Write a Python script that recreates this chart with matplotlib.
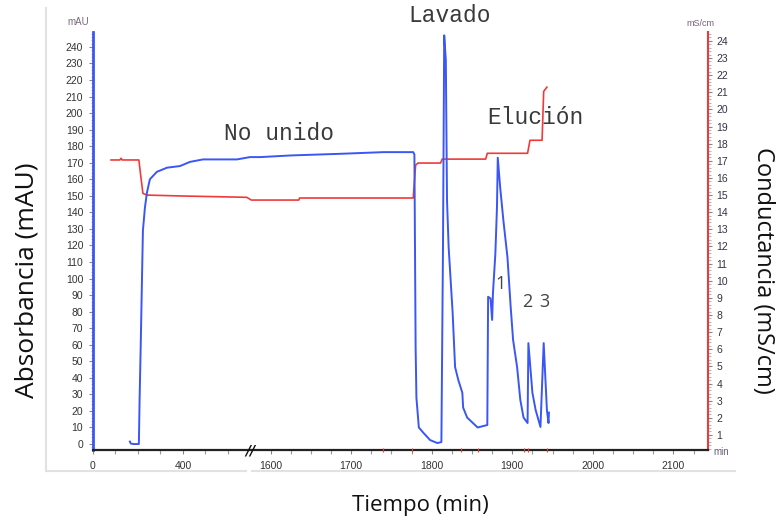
import numpy as np
import matplotlib
matplotlib.use("Agg")
import matplotlib.pyplot as plt
from matplotlib.lines import Line2D
from matplotlib.ticker import FixedLocator, MultipleLocator

# ---------------- data ----------------
abs_time = [164, 168, 180, 204, 207, 213, 218, 222, 231, 240, 253, 284, 329, 387, 431,
            489, 640, 698, 1587, 1625, 1687, 1740, 1777, 1778.5, 1780, 1781, 1784, 1790,
            1798, 1807, 1812, 1814, 1815.5, 1817.5, 1819, 1821, 1826, 1829, 1833, 1838,
            1839, 1844, 1857, 1869, 1870, 1873, 1875, 1876, 1879, 1881, 1882, 1885, 1889,
            1894, 1898, 1901, 1906, 1910, 1914, 1919, 1920, 1925, 1929, 1935, 1939, 1943,
            1945, 1945.5]
abs_vals = [1.5, 0.3, 0.0, 0.0, 25, 65, 101, 129, 143, 152, 160, 164.5, 167, 168, 170.5,
            172, 172, 173.4, 173.4, 174.4, 175.4, 176.4, 176.4, 175, 58.6, 28, 10, 6.6,
            2.4, 0.6, 1.2, 120, 247, 232, 147, 119, 79, 46.5, 38.7, 31,
            22, 16, 10, 11.5, 89, 88, 75, 91, 115, 143, 173, 155, 135,
            113, 83, 63, 46.5, 26.6, 16, 12.7, 61, 31, 20.6, 10.3, 61, 20.6,
            12.7, 19]

cond_time = [80, 120, 125, 130, 204, 213, 222, 240, 387, 684, 1576, 1635, 1636, 1777,
             1780, 1783, 1811, 1813, 1867, 1869, 1919, 1922, 1937, 1939, 1943]
cond_vals = [17.05, 17.05, 17.15, 17.05, 17.05, 16.05, 15.1, 15.0, 14.95, 14.87, 14.71,
             14.71, 14.83, 14.83, 16.75, 16.87, 16.87, 17.1, 17.1, 17.44, 17.44, 18.2,
             18.2, 21.05, 21.3]

event_marks = [1739, 1776, 1836, 1858, 1914, 1920, 1943]

x_major = [0, 400, 1600, 1700, 1800, 1900, 2000, 2100]
x_labels = ["0", "400", "1600", "1700", "1800", "1900", "2000", "2100"]
peak_labels = ["1", "2", "3"]
peak_pos = [(1885, 97), (1919, 86), (1940, 86)]

# ---------------- broken time scale ----------------
T_BP = np.array([0.0, 700.0, 1575.0, 2300.0])
U_BP = np.array([0.0, 157.5, 157.6, 157.6 + (2300 - 1575) * 0.806])


def fwd(t):
    return np.interp(np.asarray(t, dtype=float), T_BP, U_BP)


def inv(u):
    return np.interp(np.asarray(u, dtype=float), U_BP, T_BP)


W, H = 776, 520
fig = plt.figure(figsize=(W / 100, H / 100), dpi=100)
ax = fig.add_axes([93 / W, 1 - 450 / H, (708 - 93) / W, (450 - 32) / H])
ax.set_xscale('function', functions=(fwd, inv))
ax2 = ax.twinx()

BLUE = '#3a56f5'
RED = '#f03a3a'

ax.plot(abs_time, abs_vals, color=BLUE, lw=1.4, zorder=3)
ax2.plot(cond_time, cond_vals, color=RED, lw=1.2, zorder=2)
ax.set_zorder(ax2.get_zorder() + 1)
ax.patch.set_visible(False)

ax.set_xlim(0, 2143)
ax.set_ylim(-3.6, 249)
ax2.set_ylim(0.12, 24.52)

# spines
ax.spines['top'].set_visible(False)
ax2.spines['top'].set_visible(False)
ax.spines['right'].set_visible(False)
ax2.spines['left'].set_visible(False)
ax2.spines['bottom'].set_visible(False)
ax.spines['left'].set_color(BLUE)
ax.spines['left'].set_linewidth(2.0)
ax2.spines['right'].set_color(RED)
ax2.spines['right'].set_linewidth(1.5)
ax.spines['bottom'].set_color('#222222')
ax.spines['bottom'].set_linewidth(1.6)

tickfont = 'Liberation Sans'
ax.set_yticks(np.arange(0, 241, 10))
ax.yaxis.set_minor_locator(MultipleLocator(2))
ax.tick_params(axis='y', which='major', length=3, width=0.8, color='#888888',
               labelsize=7.5, labelcolor='#333333', pad=4)
ax.tick_params(axis='y', which='minor', length=1.8, width=0.6, color='#aaaaaa')

ax2.set_yticks(np.arange(1, 25, 1))
ax2.yaxis.set_minor_locator(MultipleLocator(0.2))
ax2.tick_params(axis='y', which='major', length=3, width=0.8, color='#888888',
                labelsize=7.5, labelcolor='#333344', pad=3)
ax2.tick_params(axis='y', which='minor', length=1.8, width=0.6, color='#aaaaaa')

ax.xaxis.set_major_locator(FixedLocator(x_major))
ax.set_xticklabels(x_labels)
minor_x = [100, 200, 300, 500, 600] + list(np.arange(1600, 2126, 25))
ax.xaxis.set_minor_locator(FixedLocator(minor_x))
ax.tick_params(axis='x', which='major', length=3, width=0.8, color='#888888',
               labelsize=7.5, labelcolor='#333333', pad=5)
ax.tick_params(axis='x', which='minor', length=3, width=0.8, color='#999999')

for lab in ax.get_xticklabels() + ax.get_yticklabels() + ax2.get_yticklabels():
    lab.set_fontfamily(tickfont)

# event markers on the time axis
ax.scatter(event_marks, [0] * len(event_marks), marker='|', s=12, color=RED,
           lw=0.8, transform=ax.get_xaxis_transform(), clip_on=False, zorder=5)

# break mark
ax.text(700, 0, '//', transform=ax.get_xaxis_transform(), ha='center', va='center',
        fontsize=10, fontweight='bold', color='#111111', family='DejaVu Sans',
        style='italic', zorder=6)

# small unit labels
fig.text(78 / W, 1 - 22 / H, 'mAU', fontsize=7, color='#7a6a80', ha='center',
         va='center', family=tickfont)
fig.text(700 / W, 1 - 23 / H, 'mS/cm', fontsize=6.5, color='#7a5a80', ha='center',
         va='center', family=tickfont)
fig.text(721 / W, 1 - 452 / H, 'min', fontsize=7, color='#6a5a80', ha='center',
         va='center', family=tickfont)

# annotations
mono = 'Liberation Mono'
fig.text(279 / W, 1 - 133 / H, 'No unido', fontsize=16.5, family=mono, color='#3a3a3a',
         ha='center', va='center')
fig.text(450 / W, 1 - 15 / H, 'Lavado', fontsize=16.5, family=mono, color='#3a3a3a',
         ha='center', va='center')
fig.text(535 / W, 1 - 118 / H, 'Elución', fontsize=16.5, family=mono, color='#3a3a3a',
         ha='center', va='center')
for lab, (tx, ty) in zip(peak_labels, peak_pos):
    ax.text(tx, ty, lab, fontsize=13, family='Open Sans', color='#444444',
            ha='center', va='center')

# axis titles
fig.text(27 / W, 1 - 280 / H, 'Absorbancia (mAU)', rotation=90, fontsize=19,
         family='Open Sans', color='#111111', ha='center', va='center')
fig.text(763 / W, 1 - 270 / H, 'Conductancia (mS/cm)', rotation=-90, fontsize=17,
         family='Open Sans', color='#111111', ha='center', va='center')
fig.text(420 / W, 1 - 506 / H, 'Tiempo (min)', fontsize=16, family='Open Sans',
         color='#111111', ha='center', va='center')

# faint frame of the original chromatogram
fig.add_artist(Line2D([46 / W, 46 / W], [1 - 8 / H, 1 - 471 / H], color='#e2e2e2', lw=1.5))
fig.add_artist(Line2D([46 / W, 246 / W], [1 - 471 / H, 1 - 471 / H], color='#e2e2e2', lw=1.5))
fig.add_artist(Line2D([252 / W, 735 / W], [1 - 471 / H, 1 - 471 / H], color='#e2e2e2', lw=1.5))

fig.savefig('out.png', dpi=100)
